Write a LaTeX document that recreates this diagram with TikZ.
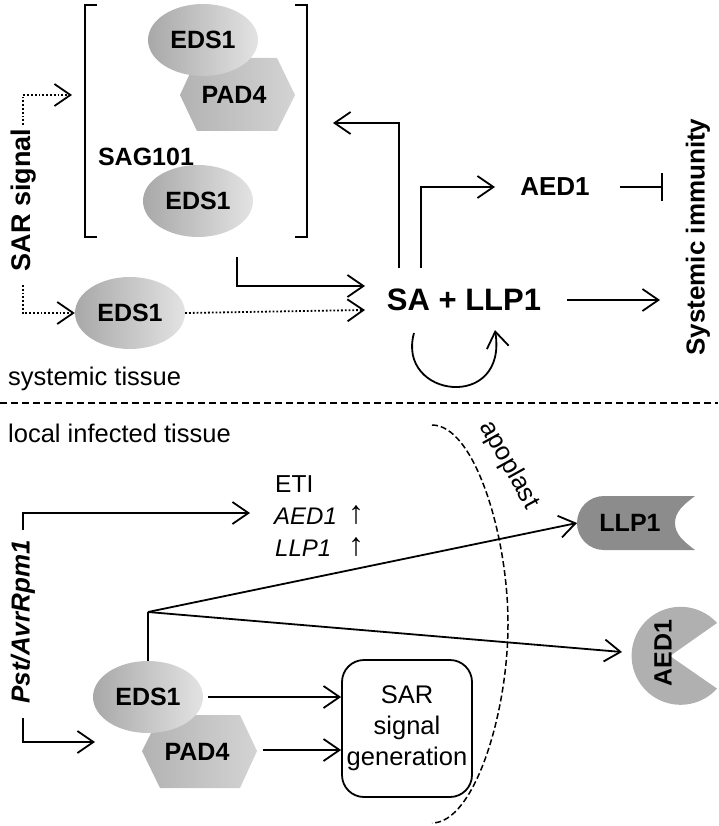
\documentclass[tikz,border=0pt]{standalone}
\usepackage{fontspec}
\setmainfont{Liberation Sans}
\usetikzlibrary{shapes.geometric,arrows.meta}
\begin{document}
\begin{tikzpicture}[x=1pt,y=-1pt,
  lw/.style={line width=1.8pt},
  arr/.style={lw,-{Straight Barb[length=16pt,width=22pt,line width=1.8pt]}},
  dotarr/.style={arr,dotted},
  eds/.style={ellipse,minimum width=110pt,minimum height=72pt,inner sep=0pt,
    left color=black!34,right color=black!11,font=\fontsize{25}{30}\selectfont\bfseries},
  hexfill/.style={left color=black!30,right color=black!17},
  bl/.style={font=\fontsize{25}{30}\selectfont\bfseries,inner sep=0pt},
  rg/.style={font=\fontsize{25.5}{30}\selectfont,inner sep=0pt},
  uparr/.style={font=\fontsize{32}{34}\selectfont,inner sep=0pt},
  it/.style={font=\fontsize{24}{30}\selectfont\itshape,inner sep=0pt}]
\useasboundingbox (0,0) rectangle (718,826);

% ---------- systemic tissue ----------
\draw[lw] (97,5) -- (85,5) -- (85,237) -- (97,237);
\draw[lw] (295,5) -- (307,5) -- (307,237) -- (295,237);

\path[hexfill] (180,95) -- (197,58) -- (277,58) -- (295,95) -- (277,131) -- (197,131) -- cycle;
\node[bl] (padA) at (234,95) {PAD4};
\node[eds] (edsA) at (203,40) {EDS1};
\node[eds] (edsB) at (198,201) {EDS1};
\node[bl] (sag) at (146,157) {SAG101};

\node[font=\fontsize{27}{32}\selectfont\bfseries,inner sep=0pt,rotate=90] (sarsig) at (24,200) {SAR signal};
\coordinate (d1) at (23,125);
\coordinate (d1t) at (72,95);
\coordinate (d2) at (23,285);
\draw[dotarr] (d1) |- (d1t);
\node[eds] (edsC) at (130,313) {EDS1};
\draw[dotarr] (d2) |- (edsC.west);

\node[font=\fontsize{31}{36}\selectfont\bfseries,inner sep=0pt] (sa) at (464,300) {SA + LLP1};
\coordinate (saIn1) at (365,286);
\coordinate (saIn2) at (365,310);
\coordinate (brk) at (237,257);
\draw[arr] (brk) |- (saIn1);
\draw[dotarr] (edsC.east) -- (saIn2);

\coordinate (up1) at (399,268);
\coordinate (up1t) at (333,123);
\draw[arr] (up1) |- (up1t);
\coordinate (up2) at (421,268);
\node[font=\fontsize{26}{31}\selectfont\bfseries,inner sep=0pt] (aedT) at (555,187) {AED1};
\coordinate (up2t) at (495,187);
\draw[arr] (up2) |- (up2t);
\coordinate (inh1) at (620,187);
\coordinate (inh2) at (663,187);
\draw[lw,-{Bar[width=28pt,line width=1.8pt]}] (inh1) -- (inh2);

\node[font=\fontsize{26}{31}\selectfont\bfseries,inner sep=0pt,rotate=90] (sysimm) at (698,237) {Systemic immunity};
\coordinate (sa1) at (567,300);
\coordinate (sa1t) at (660,300);
\draw[arr] (sa1) -- (sa1t);

\coordinate (c1) at (414,333);
\coordinate (c2) at (495,330);
\draw[arr] (c1) .. controls (396,398) and (508,412) .. (c2);

\node[rg,anchor=west] (systis) at (8,379) {systemic tissue};

% ---------- divider ----------
\coordinate (dvl) at (0,403);
\coordinate (dvr) at (718,403);
\draw[line width=1.6pt,dash pattern=on 7pt off 4pt] (dvl) -- (dvr);

% ---------- local infected tissue ----------
\node[rg,anchor=west] (loctis) at (8,433) {local infected tissue};

\node[font=\fontsize{24.5}{30}\selectfont,inner sep=0pt,anchor=west] (eti) at (275,484) {ETI};
\node[it,anchor=west] (aedG) at (274,516) {AED1};
\node[it,anchor=west] (llpG) at (275,548) {LLP1};
\node[uparr] (upA) at (356,515) {↑};
\node[uparr] (upB) at (356,547) {↑};

\node[font=\fontsize{26}{31}\selectfont\bfseries\itshape,inner sep=0pt,rotate=90] (pst) at (23,622) {Pst/AvrRpm1};
\coordinate (p1) at (23,530);
\coordinate (p1t) at (250,513);
\draw[arr] (p1) |- (p1t);
\coordinate (p2) at (23,718);
\coordinate (p2t) at (95,742);
\draw[arr] (p2) |- (p2t);

\path[hexfill] (142,751) -- (160,715) -- (240,715) -- (257,751) -- (240,788) -- (160,788) -- cycle;
\node[bl] (padB) at (197,752) {PAD4};
\node[eds] (edsD) at (148,697) {EDS1};

\coordinate (br) at (148,612);
\draw[lw] (edsD.north) -- (br);

% apoplast boundary
\coordinate (ap1) at (432,425);
\coordinate (ap2) at (508,624);
\coordinate (ap3) at (432,823);
\draw[line width=1.5pt,dash pattern=on 6pt off 3pt] (ap1) .. controls (474,425) and (508,534) .. (ap2) .. controls (508,714) and (474,823) .. (ap3);
\node[rg,rotate=-61] (apo) at (509,465) {apoplast};

% LLP1 protein
\path[fill=black!45] (604,496) .. controls (589,496) and (577,508) .. (577,523)
  .. controls (577,538) and (589,550) .. (604,550) -- (695,550)
  .. controls (683,541) and (675,534) .. (675,523)
  .. controls (675,512) and (683,505) .. (695,496) -- cycle;
\node[bl] (llpP) at (630,523) {LLP1};
% AED1 protein
\path[fill=black!31] (670,656) -- (717,623) arc[start angle=-42,end angle=-318,radius=49] -- cycle;
\node[bl,rotate=90] (aedP) at (663,653) {AED1};

\coordinate (llpT) at (577,523);
\coordinate (aedT2) at (622,652);
\draw[arr] (br) -- (llpT);
\draw[arr] (br) -- (aedT2);

% SAR signal generation
\node[draw,lw,rounded corners=22pt,minimum width=130pt,minimum height=137pt,inner sep=0pt,
  align=center,font=\fontsize{25.5}{31}\selectfont] (sarg) at (407,728.5) {SAR\\signal\\generation};
\coordinate (e1) at (208,697);
\coordinate (e2) at (263,750);
\draw[arr] (e1) -- (e1 -| sarg.west);
\draw[arr] (e2) -- (e2 -| sarg.west);
\end{tikzpicture}
\end{document}
